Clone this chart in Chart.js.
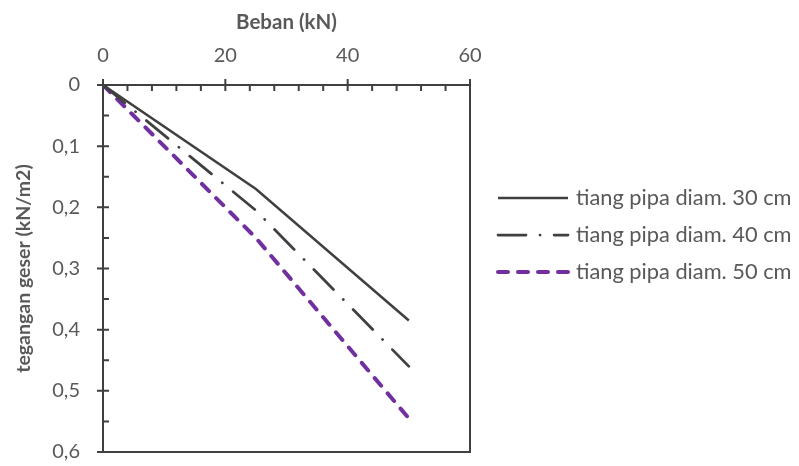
<!DOCTYPE html>
<html><head><meta charset="utf-8">
<script src="https://cdn.jsdelivr.net/npm/chart.js@4/dist/chart.umd.min.js"></script>
<style>html,body{margin:0;padding:0;background:#fff}</style>
</head><body><canvas id="c" width="799" height="466"></canvas>
<script>
const loads = [0, 25, 50];
const pipe30 = [0, 0.17, 0.385];
const pipe40 = [0, 0.205, 0.46];
const pipe50 = [0, 0.25, 0.545];
const seriesNames = ['tiang pipa diam. 30 cm', 'tiang pipa diam. 40 cm', 'tiang pipa diam. 50 cm'];
const xTickValues = [0, 20, 40, 60];
const yTickValues = [0, 0.1, 0.2, 0.3, 0.4, 0.5, 0.6];
const yTickLabels = ['0', '0,1', '0,2', '0,3', '0,4', '0,5', '0,6'];
const xTitle = 'Beban (kN)';
const yTitle = 'tegangan geser (kN/m2)';

const toPts = (xs, ys) => xs.map((v, i) => ({x: v, y: ys[i]}));
const AX = '#404040';
const TXT = '#595959';
const FONT = 'Lato';

const framePlugin = {
  id: 'frame',
  beforeDatasetsDraw(chart) {
    const {ctx, chartArea: a, scales} = chart;
    const x = scales.x, y = scales.y;
    ctx.save();
    ctx.strokeStyle = AX;
    ctx.lineWidth = 2;
    ctx.strokeRect(a.left, a.top, a.right - a.left, a.bottom - a.top);
    ctx.beginPath();
    for (let i = 0; i < xTickValues.length; i++) {
      const px = x.getPixelForValue(xTickValues[i]);
      ctx.moveTo(px, a.top - 6); ctx.lineTo(px, a.top + 6);
      if (i < xTickValues.length - 1) {
        const step = (xTickValues[i + 1] - xTickValues[i]) / 5;
        for (let k = 1; k < 5; k++) {
          const mx = x.getPixelForValue(xTickValues[i] + k * step);
          ctx.moveTo(mx, a.top); ctx.lineTo(mx, a.top + 6);
        }
      }
    }
    for (let i = 0; i < yTickValues.length; i++) {
      const py = y.getPixelForValue(yTickValues[i]);
      ctx.moveTo(a.left - 6, py); ctx.lineTo(a.left + 6, py);
      if (i < yTickValues.length - 1) {
        const my = y.getPixelForValue((yTickValues[i] + yTickValues[i + 1]) / 2);
        ctx.moveTo(a.left, my); ctx.lineTo(a.left + 6, my);
      }
    }
    ctx.stroke();
    ctx.restore();
  }
};

const legendPlugin = {
  id: 'sideLegend',
  afterDraw(chart) {
    const {ctx, chartArea: a} = chart;
    const x0 = a.right + 28, lineLen = 70, gap = 8, rowH = 37, y0 = 198;
    chart.data.datasets.forEach((ds, i) => {
      const yy = y0 + i * rowH;
      ctx.save();
      ctx.strokeStyle = ds.borderColor;
      ctx.lineWidth = ds.borderWidth;
      ctx.lineCap = ds.borderCapStyle || 'butt';
      ctx.setLineDash(ds.borderDash || []);
      ctx.beginPath();
      ctx.moveTo(x0, yy); ctx.lineTo(x0 + lineLen, yy);
      ctx.stroke();
      ctx.restore();
      ctx.save();
      ctx.fillStyle = TXT;
      ctx.font = '21.8px ' + FONT;
      ctx.textBaseline = 'middle';
      ctx.textAlign = 'left';
      ctx.fillText(ds.label, x0 + lineLen + gap, yy);
      ctx.restore();
    });
  }
};

Chart.defaults.font.family = FONT;
Chart.defaults.color = TXT;

new Chart(document.getElementById('c'), {
  type: 'line',
  data: {
    datasets: [
      {label: seriesNames[0], data: toPts(loads, pipe30), borderColor: AX, backgroundColor: AX,
       borderWidth: 2.5, pointRadius: 0, tension: 0},
      {label: seriesNames[1], data: toPts(loads, pipe40), borderColor: AX, backgroundColor: AX,
       borderWidth: 2.75, borderDash: [28, 14, 0.1, 14], borderCapStyle: 'round', pointRadius: 0, tension: 0},
      {label: seriesNames[2], data: toPts(loads, pipe50), borderColor: '#7030A0', backgroundColor: '#7030A0',
       borderWidth: 4, borderDash: [10, 10], borderCapStyle: 'round', pointRadius: 0, tension: 0}
    ]
  },
  options: {
    responsive: false,
    animation: false,
    devicePixelRatio: 1,
    layout: {padding: {left: 0, top: 0, right: 329, bottom: 14}},
    plugins: {
      tooltip: {enabled: false},
      legend: {display: false}
    },
    scales: {
      x: {
        type: 'linear', position: 'top', min: 0, max: 60,
        afterBuildTicks: s => { s.ticks = xTickValues.map(v => ({value: v})); },
        afterFit: s => { s.height = 85; },
        grid: {display: true, drawOnChartArea: false, drawTicks: true, tickLength: 17, tickColor: 'rgba(0,0,0,0)'},
        border: {display: false},
        ticks: {color: TXT, font: {size: 20}, padding: 0},
        title: {display: true, text: xTitle, color: TXT, font: {size: 20.5, weight: 'bold'}, padding: {top: 10, bottom: 0}}
      },
      y: {
        type: 'linear', position: 'left', reverse: true, min: 0, max: 0.6,
        afterBuildTicks: s => { s.ticks = yTickValues.map(v => ({value: v})); },
        afterFit: s => { s.width = 103; },
        grid: {display: true, drawOnChartArea: false, drawTicks: true, tickLength: 23, tickColor: 'rgba(0,0,0,0)'},
        border: {display: false},
        ticks: {color: TXT, font: {size: 20}, padding: 0,
                callback: (v, i) => yTickLabels[i]},
        title: {display: true, text: yTitle, color: TXT, font: {size: 19.5, weight: 'bold'}, padding: {top: 12, bottom: 0}}
      }
    }
  },
  plugins: [framePlugin, legendPlugin]
});
</script>
</body></html>
